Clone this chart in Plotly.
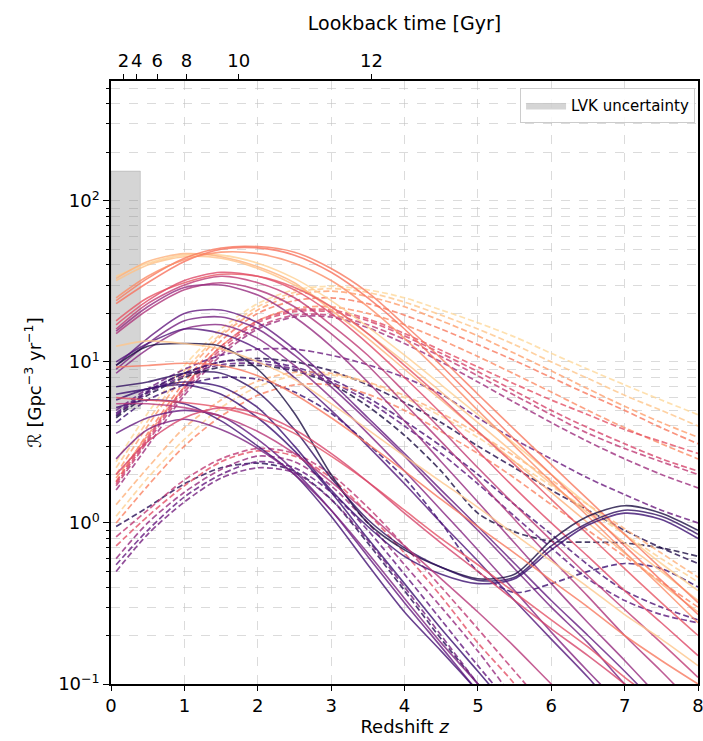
import plotly.graph_objects as go

# ---------------- data ----------------
redshift = [0.07, 0.5, 1.0, 1.5, 2.0, 2.5, 3.0, 3.5, 4.0, 4.5, 5.0, 5.5, 6.0, 6.5, 7.0, 7.5, 8.0]

# solid curves
solid_peach_a = [34, 41, 46, 46, 41, 33, 24, 16.5, 11, 7.2, 4.7, 3.1, 2.0, 1.3, 0.85, 0.56, 0.38]
solid_peach_b = [32, 40, 45, 44, 38, 30, 22, 15, 10, 6.5, 4.2, 2.7, 1.75, 1.15, 0.75, 0.5, 0.33]
solid_peach_c = [33, 42, 47, 45, 39, 31, 21, 14, 9, 5.8, 3.7, 2.4, 1.55, 1.0, 0.65, 0.42, 0.28]
solid_coral_a = [24, 33, 44, 51, 52, 48, 38, 27, 17, 10.5, 6.3, 3.8, 2.3, 1.4, 0.85, 0.52, 0.32]
solid_coral_b = [23, 31, 42, 50, 51, 46, 36, 25, 16, 9.5, 5.6, 3.3, 2.0, 1.2, 0.72, 0.44, 0.27]
solid_salmon_a = [25, 34, 43, 48, 47, 41, 32, 22, 14, 8.5, 5.0, 3.0, 1.8, 1.1, 0.66, 0.4, 0.24]
solid_red_a = [17, 24, 32, 36, 34, 28, 20, 13, 8, 4.8, 2.8, 1.65, 1.0, 0.62, 0.38, 0.24, 0.15]
solid_magenta_a = [16, 23, 30, 34, 31, 25, 17, 11, 6.5, 3.8, 2.2, 1.3, 0.78, 0.47, 0.29, 0.18, 0.11]
solid_red_b = [18, 25, 31, 35, 34, 29, 22, 15, 9.5, 6, 3.7, 2.3, 1.4, 0.85, 0.52, 0.32, 0.2]
solid_magenta_b = [15, 21, 28, 31, 28, 22, 15, 9.5, 5.5, 3.2, 1.85, 1.05, 0.6, 0.35, 0.2, 0.12, 0.07]
solid_plum_a = [15.5, 22, 29, 30, 26, 19, 12.5, 7.5, 4.3, 2.4, 1.35, 0.75, 0.42, 0.24, 0.14, 0.08]
solid_purple_a = [9.5, 14, 20, 21, 17.5, 12, 7.5, 4.5, 2.7, 1.6, 0.95, 0.56, 0.33, 0.2, 0.12, 0.07]
solid_purple_b = [9, 13, 18, 19, 16, 11, 7, 4.3, 2.6, 1.5, 0.9, 0.52, 0.3, 0.18, 0.1, 0.06]
solid_purple_c = [8.5, 12, 16, 17, 14, 9.5, 6, 3.6, 2.1, 1.2, 0.68, 0.38, 0.21, 0.12, 0.07]
solid_indigo_a = [10, 13, 16, 15, 12, 8, 5, 3, 1.75, 1.0, 0.58, 0.33, 0.19, 0.11, 0.06]
solid_dark_a = [9.5, 12.5, 13, 12.5, 9, 4.8, 2.0, 1.0, 0.68, 0.53, 0.45, 0.48, 0.78, 1.1, 1.28, 1.15, 0.9]
solid_slate_a = [7, 7.5, 8.5, 8.5, 6.5, 3.8, 1.9, 1.05, 0.7, 0.53, 0.44, 0.46, 0.72, 1.0, 1.2, 1.1, 0.85]
solid_slate_b = [6.3, 6.8, 7.5, 7, 5.2, 3, 1.6, 0.95, 0.62, 0.48, 0.42, 0.45, 0.68, 0.97, 1.15, 1.05, 0.8]
solid_slate_c = [5.8, 6.8, 7.2, 6.3, 4.5, 2.8, 1.55, 0.8, 0.42, 0.22, 0.12, 0.065]
solid_purple_d = [3.6, 4.5, 5, 4.6, 3.3, 2.1, 1.2, 0.62, 0.32, 0.17, 0.09, 0.05]
solid_slate_d = [5.2, 5.8, 5.5, 4.3, 3.0, 2.0, 1.1, 0.55, 0.28, 0.16, 0.09, 0.05]
solid_purple_e = [2.5, 3.8, 4.4, 3.8, 2.9, 2.0, 1.2, 0.65, 0.34, 0.18, 0.1, 0.055]
solid_peach_d = [12.5, 13.5, 13, 12, 10, 7.8, 5.5, 3.8, 2.6, 1.8, 1.25, 0.85, 0.58, 0.4, 0.27, 0.19, 0.13]
solid_salmon_b = [9.3, 9.5, 9.8, 9.5, 8.2, 6.3, 4.5, 3.1, 2.1, 1.4, 0.95, 0.65, 0.44, 0.3, 0.2, 0.14, 0.1]
solid_pink_a = [6, 5.8, 5.6, 5.2, 4.5, 3.6, 2.6, 1.8, 1.2, 0.8, 0.55, 0.37, 0.25, 0.17, 0.11, 0.075]
solid_pink_b = [2.0, 3.2, 4.5, 5.2, 4.8, 3.8, 2.7, 1.8, 1.15, 0.75, 0.5, 0.33, 0.22, 0.15, 0.1, 0.065]
solid_magenta_c = [5.5, 5.5, 5.2, 4.6, 3.7, 2.7, 1.8, 1.15, 0.72, 0.45, 0.28, 0.17, 0.1, 0.06]

# dashed curves
dash_peach_a = [2.4, 4.8, 9.5, 16, 23, 28, 29.5, 28, 25, 21, 17.5, 14.3, 11.3, 9, 7.2, 5.8, 4.7]
dash_peach_b = [2.2, 4.3, 8.8, 15, 22, 27, 28.5, 27, 23.5, 19.5, 16, 12.8, 10, 7.9, 6.2, 5.0, 4.0]
dash_orange_a = [2.0, 4.0, 8.3, 14.5, 21, 26, 27.5, 25.5, 22, 18, 14.5, 11.3, 8.8, 6.8, 5.3, 4.2, 3.4]
dash_coral_a = [1.8, 3.6, 7.5, 13.5, 20, 24, 25, 23, 19.5, 16, 12.8, 10.2, 8.0, 6.3, 5.0, 3.9, 3.1]
dash_salmon_a = [1.9, 3.5, 7.0, 12.5, 18, 21.5, 22, 20, 17, 13.7, 10.8, 8.4, 6.5, 5.0, 3.9, 3.1, 2.5]
dash_pink_a = [1.8, 3.4, 7, 12.5, 18, 21, 21, 18.5, 15, 11.8, 9.3, 7.3, 5.8, 4.7, 3.8, 3.2, 2.7]
dash_magenta_a = [1.7, 3.2, 6.5, 11.5, 16.5, 19.5, 19.5, 17, 13.8, 10.8, 8.2, 6.2, 4.7, 3.6, 2.9, 2.4, 2.0]
dash_plum_a = [1.6, 3.0, 6.2, 11, 16, 19, 19, 16.3, 13, 10, 7.5, 5.6, 4.2, 3.2, 2.5, 2.0, 1.65]
dash_pink_b = [1.75, 3.3, 6.8, 12, 17.5, 20.5, 20.5, 18, 14.5, 11.3, 8.7, 6.6, 5.0, 3.9, 3.1, 2.5, 2.1]
dash_purple_a = [5.0, 6.8, 9, 11, 12, 12, 11, 9.6, 8.0, 6.3, 4.5, 3.3, 2.5, 1.9, 1.5, 1.2, 1.0]
dash_navy_a = [4.6, 6.5, 8.5, 10, 10.5, 10, 8.8, 7.2, 5.6, 4.2, 3.0, 2.2, 1.6, 1.2, 0.9, 0.7, 0.56]
dash_navy_b = [4.5, 6.2, 8, 9.3, 9.5, 8.8, 7.3, 5.3, 3.5, 2.1, 1.15, 0.88, 0.77, 0.76, 0.75, 0.7, 0.62]
dash_grey_a = [4.2, 5.8, 7.2, 8, 7.8, 6.5, 4.8, 3.1, 1.9, 1.0, 0.5, 0.37, 0.42, 0.5, 0.56, 0.52, 0.4]
dash_indigo_a = [4.8, 6.6, 8.5, 10, 10.2, 9.3, 7.8, 6.0, 4.3, 3.0, 2.0, 1.3, 0.85, 0.55, 0.38, 0.3, 0.25]
dash_indigo_b = [4.7, 6.4, 8.2, 9.6, 9.8, 9.0, 7.5, 5.7, 4.0, 2.7, 1.75, 1.1, 0.7, 0.45, 0.33, 0.27, 0.24]
dash_peach_c = [1.1, 1.9, 3.3, 5.2, 7.0, 8.2, 8.3, 7.4, 6.0, 4.6, 3.4, 2.4, 1.7, 1.2, 0.85, 0.6, 0.43]
dash_salmon_b = [1.0, 1.7, 3.0, 4.6, 6.2, 7.2, 7.2, 6.3, 5.0, 3.7, 2.7, 1.9, 1.3, 0.9, 0.62, 0.43, 0.3]
dash_peach_d = [1.3, 2.2, 3.9, 5.8, 7.6, 8.6, 8.5, 7.5, 6.2, 4.8, 3.6, 2.6, 1.85, 1.3, 0.92, 0.65, 0.46]
dash_navy_c = [0.95, 1.25, 1.75, 2.2, 2.35, 2.1, 1.4, 0.75, 0.38, 0.19, 0.1, 0.05]
dash_purple_b = [0.5, 0.85, 1.35, 1.9, 2.2, 2.05, 1.4, 0.78, 0.4, 0.2, 0.1, 0.05]
dash_pink_c = [0.72, 1.1, 1.7, 2.4, 2.8, 2.6, 1.9, 1.15, 0.65, 0.35, 0.18, 0.1, 0.05]
dash_plum_b = [0.6, 1.0, 1.55, 2.15, 2.6, 2.4, 1.7, 1.0, 0.55, 0.3, 0.16, 0.08]
dash_magenta_b = [0.82, 1.2, 1.85, 2.5, 2.9, 2.7, 2.0, 1.25, 0.72, 0.4, 0.22, 0.12, 0.065]
dash_purple_c = [0.55, 0.9, 1.45, 2.0, 2.4, 2.2, 1.55, 0.9, 0.48, 0.25, 0.13, 0.07]

# LVK uncertainty band
lvk_redshift = [0.0, 0.4]
lvk_rate = [5.1, 153.0]

# axis ticks
x_tick_values = [0, 1, 2, 3, 4, 5, 6, 7, 8]
x_tick_labels = ["0", "1", "2", "3", "4", "5", "6", "7", "8"]
lookback_labels = ["2", "4", "6", "8", "10", "12"]
lookback_at_redshift = [0.17, 0.35, 0.63, 1.03, 1.74, 3.55]
y_tick_values = [0.1, 1, 10, 100]
y_tick_labels = ["10<sup>−1</sup>", "10<sup>0</sup>", "10<sup>1</sup>", "10<sup>2</sup>"]
y_minor_values = [m * d for d in (0.1, 1, 10, 100) for m in range(2, 10) if m * d < 560]

# ---------------- styling ----------------
solid_curves = [solid_peach_a, solid_peach_b, solid_peach_c, solid_coral_a, solid_coral_b, solid_salmon_a,
                solid_red_a, solid_magenta_a, solid_red_b, solid_magenta_b, solid_plum_a,
                solid_purple_a, solid_purple_b, solid_purple_c, solid_indigo_a,
                solid_dark_a, solid_slate_a, solid_slate_b, solid_slate_c, solid_purple_d, solid_slate_d,
                solid_purple_e, solid_peach_d, solid_salmon_b, solid_pink_a, solid_pink_b, solid_magenta_c]
solid_shades = [0.9, 0.87, 0.84, 0.72, 0.70, 0.76,
                0.60, 0.52, 0.63, 0.48, 0.42,
                0.30, 0.34, 0.38, 0.26,
                0.12, 0.17, 0.20, 0.20, 0.30, 0.22,
                0.36, 0.88, 0.72, 0.62, 0.58, 0.50]

dash_curves = [dash_peach_a, dash_peach_b, dash_orange_a, dash_coral_a, dash_salmon_a,
               dash_pink_a, dash_magenta_a, dash_plum_a, dash_pink_b,
               dash_purple_a, dash_navy_a, dash_navy_b, dash_grey_a, dash_indigo_a, dash_indigo_b,
               dash_peach_c, dash_salmon_b, dash_peach_d,
               dash_navy_c, dash_purple_b, dash_pink_c, dash_plum_b, dash_magenta_b, dash_purple_c]
dash_shades = [0.92, 0.88, 0.80, 0.72, 0.76,
               0.62, 0.52, 0.44, 0.58,
               0.32, 0.14, 0.12, 0.20, 0.24, 0.28,
               0.90, 0.74, 0.84,
               0.16, 0.34, 0.62, 0.42, 0.52, 0.30]

MAGMA = ["#000004", "#140e36", "#3b0f70", "#641a80", "#8c2981", "#b73779",
         "#de4968", "#f7705c", "#fe9f6d", "#fecf92", "#fcfdbf"]


def magma(t, alpha=0.8):
    t = min(max(t, 0.0), 1.0)
    pos = t * (len(MAGMA) - 1)
    i = min(int(pos), len(MAGMA) - 2)
    f = pos - i
    c0 = [int(MAGMA[i][k:k + 2], 16) for k in (1, 3, 5)]
    c1 = [int(MAGMA[i + 1][k:k + 2], 16) for k in (1, 3, 5)]
    c = [round(a + (b - a) * f) for a, b in zip(c0, c1)]
    return f"rgba({c[0]},{c[1]},{c[2]},{alpha})"


fig = go.Figure()

# LVK band
fig.add_trace(go.Scatter(
    x=[lvk_redshift[0], lvk_redshift[1], lvk_redshift[1], lvk_redshift[0], lvk_redshift[0]],
    y=[lvk_rate[0], lvk_rate[0], lvk_rate[1], lvk_rate[1], lvk_rate[0]],
    fill="toself", fillcolor="rgba(128,128,128,0.33)", mode="lines",
    line=dict(color="rgba(128,128,128,0.35)", width=0.8),
    name="LVK uncertainty", showlegend=True, hoverinfo="skip"))

for vals, t in zip(dash_curves, dash_shades):
    fig.add_trace(go.Scatter(x=redshift[:len(vals)], y=vals, mode="lines",
                             line=dict(color=magma(t), width=1.7, dash="6px,3px", shape="spline", smoothing=0.8),
                             showlegend=False, hoverinfo="skip"))

for vals, t in zip(solid_curves, solid_shades):
    fig.add_trace(go.Scatter(x=redshift[:len(vals)], y=vals, mode="lines",
                             line=dict(color=magma(t), width=1.6, shape="spline", smoothing=0.8),
                             showlegend=False, hoverinfo="skip"))

# invisible trace to carry the top axis
fig.add_trace(go.Scatter(x=lookback_at_redshift, y=[1] * len(lookback_at_redshift), xaxis="x2",
                         mode="markers", marker=dict(opacity=0), showlegend=False, hoverinfo="skip"))

grid_col = "rgba(190,190,190,0.55)"
tick_font = dict(family="DejaVu Sans", size=18, color="black")
title_font = dict(family="DejaVu Sans", size=18, color="black")
top_title_font = dict(family="DejaVu Sans", size=19, color="black")

fig.update_layout(
    width=703, height=741,
    margin=dict(l=111, r=5, t=81, b=57),
    paper_bgcolor="white", plot_bgcolor="white",
    font=tick_font,
    xaxis=dict(range=[0, 8], tickmode="array", tickvals=x_tick_values, ticktext=x_tick_labels,
               showline=True, linecolor="black", linewidth=1.5, ticklabeloverflow="allow",
               mirror=True, ticks="outside", ticklen=5, tickwidth=1.2, tickcolor="black",
               showgrid=True, gridcolor=grid_col, griddash="dash", gridwidth=1, zeroline=False,
               title=dict(text="Redshift <i>z</i>", standoff=4, font=title_font), automargin=False,
               tickfont=tick_font, tickangle=0),
    xaxis2=dict(range=[0, 8], overlaying="x", side="top", tickmode="array",
                tickvals=lookback_at_redshift, ticktext=lookback_labels, tickangle=0,
                ticks="outside", ticklen=6, tickwidth=1.2, tickcolor="black",
                showgrid=False, zeroline=False, showline=False, ticklabeloverflow="allow",
                title=dict(text="Lookback time [Gyr]", standoff=14, font=top_title_font), automargin=False,
                tickfont=tick_font),
    yaxis=dict(type="log", range=[-1, 2.744], tickmode="array", tickvals=y_tick_values,
               ticktext=y_tick_labels, showline=True, linecolor="black", linewidth=1.5, mirror=True,
               ticks="outside", ticklen=6, tickwidth=1.2, tickcolor="black",
               showgrid=True, gridcolor=grid_col, griddash="dash", gridwidth=1, zeroline=False,
               minor=dict(tickmode="array", tickvals=y_minor_values, ticks="outside", ticklen=3,
                          tickcolor="black", showgrid=True, gridcolor=grid_col, griddash="dash"),
               title=dict(text="ℛ [Gpc<sup>−3</sup> yr<sup>−1</sup>]", standoff=12, font=title_font),
               automargin=False, tickfont=tick_font),
    legend=dict(x=0.995, y=0.988, xanchor="right", yanchor="top", bgcolor="rgba(255,255,255,0.85)",
                bordercolor="#cccccc", borderwidth=1, font=dict(family="DejaVu Sans", size=15),
                itemwidth=40),
    showlegend=True,
)

fig.write_html("out.html")
